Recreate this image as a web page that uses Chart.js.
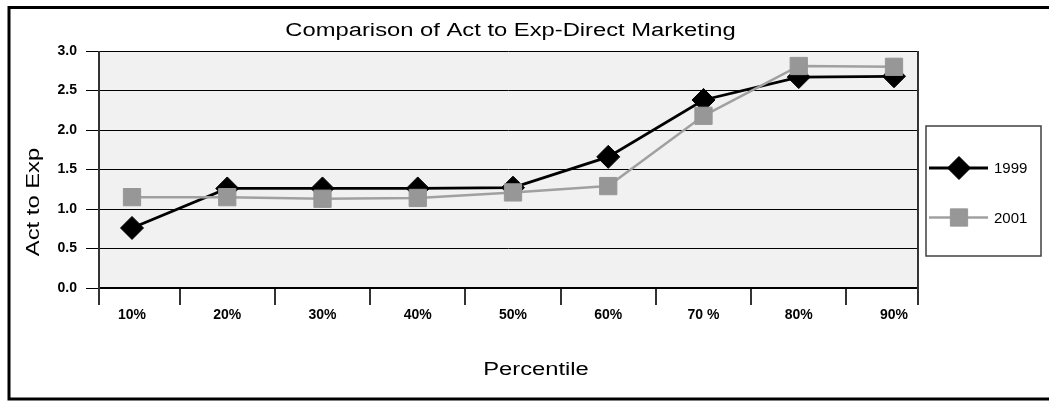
<!DOCTYPE html>
<html>
<head>
<meta charset="utf-8">
<title>Comparison of Act to Exp-Direct Marketing</title>
<script src="https://cdn.jsdelivr.net/npm/chart.js@4.4.1/dist/chart.umd.min.js"></script>
<style>
  html, body { margin: 0; padding: 0; background: #fff; }
  #wrap { width: 1049px; height: 402px; position: relative; }
</style>
</head>
<body>
<div id="wrap"><canvas id="grafico"></canvas></div>
<script>
const chartTitle = "Comparison of Act to Exp-Direct Marketing";
const xTitle = "Percentile";
const yTitle = "Act to Exp";

const categories = ["10%", "20%", "30%", "40%", "50%", "60%", "70 %", "80%", "90%"];
const serieLabels = ["1999", "2001"];
const valores1999 = [0.76, 1.26, 1.26, 1.26, 1.27, 1.66, 2.38, 2.67, 2.68];
const valores2001 = [1.15, 1.15, 1.13, 1.14, 1.21, 1.29, 2.18, 2.81, 2.80];
const yTicks = [0, 0.5, 1.0, 1.5, 2.0, 2.5, 3.0];

const FONTE = '"Liberation Sans", Arial, Helvetica, sans-serif';

// categories sit on 1..n of a linear axis so the first/last ones can hug the frame
const posicoes = categories.map((_, i) => i + 1);
const pontos = valores => valores.map((v, i) => ({ x: posicoes[i], y: v }));

// text stretched sideways, the way the old spreadsheet export draws its titles
function textoLargo(ctx, texto, x, y, angulo) {
  ctx.save();
  ctx.translate(x, y);
  if (angulo) ctx.rotate(angulo);
  ctx.scale(1.32, 1);
  ctx.fillText(texto, 0, 0);
  ctx.restore();
}

// titles, legend box, frame and plot background
const moldura = {
  id: "moldura",
  beforeDraw(chart) {
    const { ctx, chartArea: a } = chart;
    ctx.save();
    ctx.fillStyle = "#ffffff";
    ctx.fillRect(0, 0, chart.width, chart.height);
    ctx.fillStyle = "#f1f1f1";
    ctx.fillRect(a.left, a.top, a.right - a.left, a.bottom - a.top);
    ctx.restore();
  },
  beforeDatasetsDraw(chart) {
    const { ctx, chartArea: a } = chart;
    ctx.save();
    ctx.strokeStyle = "#333333";
    ctx.lineWidth = 2;
    ctx.beginPath();
    ctx.moveTo(a.left, a.top);
    ctx.lineTo(a.left, a.bottom + 17);
    ctx.moveTo(a.right, a.top);
    ctx.lineTo(a.right, a.bottom + 17);
    ctx.stroke();
    ctx.restore();
  },
  afterDraw(chart) {
    const { ctx, chartArea: a } = chart;
    ctx.save();

    ctx.fillStyle = "#000";
    ctx.font = "18px " + FONTE;
    ctx.textAlign = "center";
    ctx.textBaseline = "alphabetic";
    textoLargo(ctx, chartTitle, (a.left + a.right) / 2 + 2, 36);
    textoLargo(ctx, xTitle, 536, 375);
    textoLargo(ctx, yTitle, 39, 202, -Math.PI / 2);

    // legend with line + marker samples
    const lx = a.right + 8, ly = 126, lw = 115, lh = 130;
    ctx.strokeStyle = "#404040";
    ctx.lineWidth = 1.5;
    ctx.strokeRect(lx, ly, lw, lh);

    chart.data.datasets.forEach((ds, i) => {
      const y = 168 + i * 49.5;
      ctx.strokeStyle = ds.borderColor;
      ctx.lineWidth = ds.borderWidth;
      ctx.beginPath();
      ctx.moveTo(lx + 3, y);
      ctx.lineTo(lx + 62, y);
      ctx.stroke();

      ctx.fillStyle = ds.pointBackgroundColor;
      ctx.strokeStyle = ds.pointBorderColor;
      ctx.lineWidth = ds.pointBorderWidth;
      Chart.helpers.drawPoint(ctx, {
        pointStyle: ds.pointStyle,
        rotation: 0,
        radius: ds.pointRadius,
        borderWidth: ds.pointBorderWidth
      }, lx + 33, y);

      ctx.fillStyle = "#000";
      ctx.font = "15px " + FONTE;
      ctx.textAlign = "left";
      ctx.textBaseline = "middle";
      ctx.fillText(ds.label, lx + 68, y + 1);
    });

    // outer chart border
    ctx.strokeStyle = "#000";
    ctx.lineWidth = 3;
    ctx.strokeRect(9, 7.5, 1060, 391.5);
    ctx.restore();
  }
};

const grafico = new Chart(document.getElementById("grafico"), {
  type: "line",
  data: {
    datasets: [
      {
        label: serieLabels[0],
        data: pontos(valores1999),
        borderColor: "#000000",
        borderWidth: 2.8,
        pointStyle: "rectRot",
        pointRadius: 11.5,
        pointBackgroundColor: "#000000",
        pointBorderColor: "#000000",
        pointBorderWidth: 1,
        tension: 0,
        order: 1
      },
      {
        label: serieLabels[1],
        data: pontos(valores2001),
        borderColor: "#a0a0a0",
        borderWidth: 2.5,
        pointStyle: "rect",
        pointRadius: 12.2,
        pointBackgroundColor: "#979797",
        pointBorderColor: "#979797",
        pointBorderWidth: 1,
        tension: 0,
        order: 0
      }
    ]
  },
  options: {
    responsive: true,
    maintainAspectRatio: false,
    animation: false,
    events: [],
    layout: {
      padding: { left: 39, right: 131, top: 51, bottom: 54 }
    },
    plugins: {
      legend: { display: false },
      title: { display: false },
      tooltip: { enabled: false }
    },
    scales: {
      x: {
        type: "linear",
        min: 1 - 33 / 95.25,
        max: categories.length + 24 / 95.25,
        afterBuildTicks: scale => {
          scale.ticks = posicoes.map(v => ({ value: v }));
        },
        afterFit: scale => { scale.height = 60; },
        ticks: {
          autoSkip: false,
          maxRotation: 0,
          padding: 2,
          color: "#000",
          font: { family: FONTE, size: 14, weight: "bold" },
          callback: v => categories[v - 1]
        },
        grid: {
          offset: true,
          drawOnChartArea: false,
          drawTicks: true,
          tickLength: 17,
          color: "#333333",
          lineWidth: 2
        },
        border: { display: true, color: "#000", width: 2 }
      },
      y: {
        min: yTicks[0],
        max: yTicks[yTicks.length - 1],
        afterBuildTicks: scale => {
          scale.ticks = yTicks.map(v => ({ value: v }));
        },
        afterFit: scale => { scale.width = 60; },
        ticks: {
          padding: 9,
          color: "#000",
          font: { family: FONTE, size: 14, weight: "bold" },
          callback: v => Number(v).toFixed(1)
        },
        grid: {
          color: "#000",
          lineWidth: 1,
          drawTicks: true,
          tickLength: 13
        },
        border: { display: false }
      }
    }
  },
  plugins: [moldura]
});
</script>
</body>
</html>
